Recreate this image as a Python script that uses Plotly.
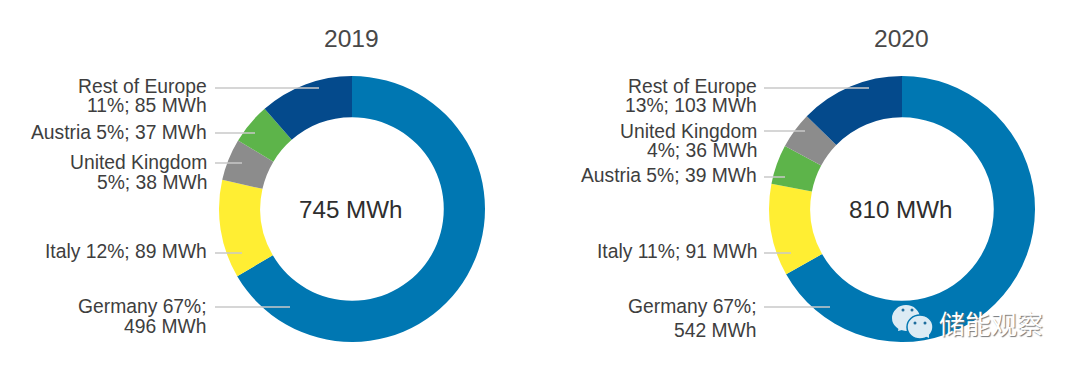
import plotly.graph_objects as go

years = ["2019", "2020"]
totals = ["745 MWh", "810 MWh"]
names_2019 = ["Germany", "Italy", "United Kingdom", "Austria", "Rest of Europe"]
values_2019 = [496, 89, 38, 37, 85]
colors_2019 = ["#0077B2", "#FFEE33", "#8C8C8C", "#5DB44A", "#044A8C"]
names_2020 = ["Germany", "Italy", "Austria", "United Kingdom", "Rest of Europe"]
values_2020 = [542, 91, 39, 36, 103]
colors_2020 = ["#0077B2", "#FFEE33", "#5DB44A", "#8C8C8C", "#044A8C"]

PAGE_MARGIN = 8  # the page body offsets the figure by this much
W, H = 1080 - PAGE_MARGIN, 370 - PAGE_MARGIN
FONT = "Liberation Sans"
TEXT = "#3E3E3E"
LINE = "#C9C9C9"

# label line text, y position
labels_2019 = [("Rest of Europe", 87), ("11%; 85 MWh", 106), ("Austria 5%; 37 MWh", 133),
               ("United Kingdom", 162), ("5%; 38 MWh", 182), ("Italy 12%; 89 MWh", 251),
               ("Germany 67%;", 306), ("496 MWh", 326)]
labels_2020 = [("Rest of Europe", 87), ("13%; 103 MWh", 106), ("United Kingdom", 131),
               ("4%; 36 MWh", 150), ("Austria 5%; 39 MWh", 176), ("Italy 11%; 91 MWh", 251),
               ("Germany 67%;", 306), ("542 MWh", 330)]
# leader line y, end x
leaders_2019 = [(88, 319), (133, 255), (163, 242), (253, 242), (307, 290)]
leaders_2020 = [(88, 869), (131, 805), (177, 785), (253, 791), (307, 830)]


def px(x):
    return (x - PAGE_MARGIN) / W


def py(y):
    return 1 - (y - PAGE_MARGIN) / H


fig = go.Figure()
R = 133
for cx, names, vals, cols in [(352, names_2019, values_2019, colors_2019),
                              (902, names_2020, values_2020, colors_2020)]:
    fig.add_trace(go.Pie(labels=names, values=vals, hole=0.69, sort=False, direction="clockwise",
                         rotation=0, textinfo="none", hoverinfo="label+value",
                         marker=dict(colors=cols, line=dict(width=0)),
                         domain=dict(x=[px(cx - R), px(cx + R)], y=[py(209 + R), py(209 - R)]),
                         showlegend=False))

ann = []
shapes = []


def txt(x, y, s, size, anchor="center", color=TEXT, family=FONT, **fontkw):
    ann.append(dict(x=px(x), y=py(y), xref="paper", yref="paper", text=s, showarrow=False,
                    xanchor=anchor, yanchor="middle", align=anchor,
                    font=dict(size=size, color=color, family=family, **fontkw)))


for i, cx in enumerate([352, 902]):
    txt(cx - 1, 38, years[i], 24.6, color="#484848")
    txt(cx - 1, 209, totals[i], 24.2, color="#2E2E2E")

for x, rows in [(209, labels_2019), (759, labels_2020)]:
    for s, y in rows:
        txt(x, y, s, 19.3, anchor="right")

for x0, rows in [(215, leaders_2019), (764, leaders_2020)]:
    for y, x1 in rows:
        shapes.append(dict(type="line", xref="paper", yref="paper", x0=px(x0), x1=px(x1),
                           y0=py(y), y1=py(y), line=dict(color=LINE, width=1.5)))


def tail(a, b, c):
    pts = [a, b, c]
    d = "M " + " L ".join(f"{px(x):.5f} {py(y):.5f}" for x, y in pts) + " Z"
    return dict(type="path", xref="paper", yref="paper", path=d, fillcolor="#DCEBF4",
                line=dict(width=0))


# watermark: two speech bubbles and caption
shapes.append(tail((899, 326), (898, 331), (906, 329)))
for cx, cy, r, lw in [(906, 318, 14, 0), (920, 327, 13, 1.5)]:
    ry = r * 0.92
    shapes.append(dict(type="circle", xref="paper", yref="paper", x0=px(cx - r), x1=px(cx + r),
                       y0=py(cy + ry), y1=py(cy - ry), fillcolor="#DCEBF4",
                       line=dict(color="#0077B2", width=lw)))
shapes.append(tail((925, 336), (929, 338), (929, 332)))
for ex, ey in [(903, 310), (912, 310), (915, 323), (925, 323)]:
    shapes.append(dict(type="circle", xref="paper", yref="paper", x0=px(ex - 1.5), x1=px(ex + 1.5),
                       y0=py(ey + 1.5), y1=py(ey - 1.5), fillcolor="#1F6E9E", line=dict(width=0)))
txt(991, 322, "储能观察", 26, color="#FFFFFF", family="Noto Sans CJK SC",
    shadow="1px 1px 1px #777777")

fig.update_layout(width=W, height=H, margin=dict(l=0, r=0, t=0, b=0), paper_bgcolor="#FFFFFF",
                  plot_bgcolor="#FFFFFF", annotations=ann, shapes=shapes)
fig.write_html("out.html")
